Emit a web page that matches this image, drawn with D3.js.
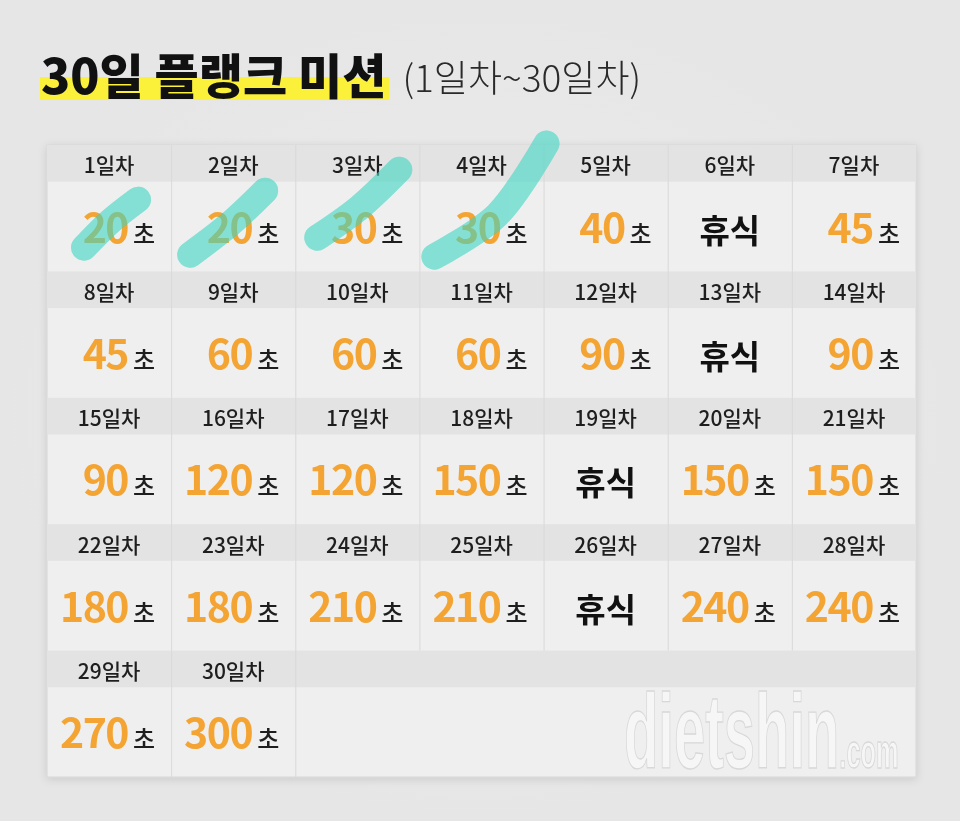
<!DOCTYPE html>
<html>
<head>
<meta charset="utf-8">
<script src="https://cdn.jsdelivr.net/npm/d3@7"></script>
<style>
  html, body { margin: 0; padding: 0; background: #e9e9e9; }
  svg { display: block; }
</style>
</head>
<body>
<div id="chart"></div>
<script>
// plank mission - 30 days, seconds per day (null = rest day)
const seconds = [
    20, 20, 30, 30, 40, null, 45,
    45, 60, 60, 60, 90, null, 90,
    90, 120, 120, 150, null, 150, 150,
    180, 180, 210, 210, null, 240, 240,
    270, 300
];
const dayLabels = seconds.map((s, i) => (i + 1) + '일차');
const completedDays = [1, 2, 3, 4];
const titleMain = '30일 플랭크 미션';
const titleSub = '(1일차~30일차)';
const unitLabel = '초';
const restLabel = '휴식';
const watermark = 'dietshin';
const watermarkTail = '.com';

const W = 960, H = 821;
const font = '"Noto Sans CJK KR", "Noto Sans", sans-serif';

const svg = d3.select('#chart')
    .append('svg')
    .attr('width', W)
    .attr('height', H);

const defs = svg.append('defs');
const shadow = defs.append('filter')
    .attr('id', 'shadow')
    .attr('x', '-5%').attr('y', '-5%')
    .attr('width', '110%').attr('height', '110%');
shadow.append('feDropShadow')
    .attr('dx', 0).attr('dy', 2)
    .attr('stdDeviation', 4)
    .attr('flood-color', '#000')
    .attr('flood-opacity', 0.12);

const bg = defs.append('radialGradient').attr('id', 'bg');
bg.append('stop').attr('offset', '0%').attr('stop-color', '#ededed');
bg.append('stop').attr('offset', '100%').attr('stop-color', '#e6e6e6');

svg.append('rect')
    .attr('width', W).attr('height', H)
    .attr('fill', 'url(#bg)');

///////////////////////////////
// title
///////////////////////////////
const titleG = svg.append('g');
const highlight = titleG.append('rect')
    .attr('fill', '#fbf03a');

const title = titleG.append('text')
    .attr('x', 41)
    .attr('y', 94)
    .attr('font-family', font)
    .attr('font-size', 48)
    .attr('font-weight', 900)
    .attr('fill', '#111')
    .text(titleMain);

const tw = title.node().getComputedTextLength();
highlight
    .attr('x', 40)
    .attr('y', 77)
    .attr('width', tw + 4)
    .attr('height', 23);

titleG.append('text')
    .attr('x', 41 + tw + 16)
    .attr('y', 92)
    .attr('font-family', font)
    .attr('font-size', 37)
    .attr('font-weight', 300)
    .attr('fill', '#2a2a2a')
    .text(titleSub);

///////////////////////////////
// grid
///////////////////////////////
const cols = 7, rows = Math.ceil(seconds.length / cols);

const x = d3.scaleBand()
    .domain(d3.range(cols))
    .range([47, 916]);

const y = d3.scaleBand()
    .domain(d3.range(rows))
    .range([145, 777]);

const headerH = y.bandwidth() * 0.29;
const cells = seconds.map((s, i) => ({
    day: i + 1,
    label: dayLabels[i],
    sec: s,
    col: i % cols,
    row: Math.floor(i / cols)
}));

const grid = svg.append('g');

// outer box with shadow
grid.append('rect')
    .attr('x', x(0))
    .attr('y', y(0))
    .attr('width', x.range()[1] - x.range()[0])
    .attr('height', y.range()[1] - y.range()[0])
    .attr('fill', '#efefef')
    .attr('stroke', '#d6d6d6')
    .attr('filter', 'url(#shadow)');

// header bands (full width)
grid.append('g')
    .selectAll('rect')
    .data(d3.range(rows))
    .enter()
    .append('rect')
        .attr('x', x(0))
        .attr('y', d => y(d))
        .attr('width', x.range()[1] - x.range()[0])
        .attr('height', headerH)
        .attr('fill', '#e3e3e3');

// vertical dividers, only where a day exists on either side
const dividers = [];
d3.range(rows).forEach(r => {
    d3.range(1, cols).forEach(c => {
        const idx = r * cols + c;
        if (idx <= seconds.length) dividers.push({ r, c });
    });
});
grid.append('g')
    .selectAll('line')
    .data(dividers)
    .enter()
    .append('line')
        .attr('x1', d => x(d.c) + 0.5)
        .attr('x2', d => x(d.c) + 0.5)
        .attr('y1', d => y(d.r))
        .attr('y2', d => y(d.r) + y.bandwidth())
        .attr('stroke', '#d9d9d9')
        .attr('stroke-width', 1);

// day labels
grid.append('g')
    .selectAll('text')
    .data(cells)
    .enter()
    .append('text')
        .attr('x', d => x(d.col) + x.bandwidth() / 2)
        .attr('y', d => y(d.row) + headerH / 2 + 1)
        .attr('text-anchor', 'middle')
        .attr('dominant-baseline', 'central')
        .attr('font-family', font)
        .attr('font-size', 21)
        .attr('font-weight', 500)
        .attr('fill', '#1e1e1e')
        .text(d => d.label);

// values (alphabetic baseline so 초 sits on the digits' baseline)
const valBase = d => y(d.row) + headerH + (y.bandwidth() - headerH) / 2 + 16;

const vals = grid.append('g')
    .selectAll('text')
    .data(cells)
    .enter()
    .append('text')
        .attr('x', d => d.sec == null ? x(d.col) + x.bandwidth() / 2 : x(d.col) + x.bandwidth() - 16)
        .attr('y', valBase)
        .attr('text-anchor', d => d.sec == null ? 'middle' : 'end')
        .attr('font-family', font);

vals.filter(d => d.sec == null)
    .attr('font-size', 33)
    .attr('font-weight', 700)
    .attr('fill', '#111')
    .text(restLabel);

const secVals = vals.filter(d => d.sec != null);
secVals.append('tspan')
    .attr('font-size', 41)
    .attr('font-weight', 700)
    .attr('fill', '#f4a433')
    .attr('letter-spacing', -1.5)
    .text(d => d.sec);
secVals.append('tspan')
    .attr('dx', 5)
    .attr('font-size', 24)
    .attr('font-weight', 500)
    .attr('fill', '#1e1e1e')
    .text(unitLabel);

///////////////////////////////
// check-off marker strokes
///////////////////////////////
// rough hand strokes, offsets from each cell's value area
const strokeShape = {
    1: [[37, 66], [63, 40], [91, 18]],
    2: [[19, 73], [58, 43], [94, 9]],
    3: [[22, 56], [64, 26], [104, -12]],
    4: [[15, 75], [78, 33], [127, -38]]
};
const line = d3.line().curve(d3.curveCatmullRom);
const marked = cells.filter(d => completedDays.includes(d.day));
const strokePath = d => line(strokeShape[d.day].map(p =>
    [x(d.col) + p[0], y(d.row) + headerH + p[1]]));

// two passes: multiply tints the digits green, a normal pass brightens the cyan
[['multiply', 0.6], ['normal', 0.55]].forEach(([mode, op]) => {
    svg.append('g')
        .style('mix-blend-mode', mode)
        .attr('opacity', op)
        .selectAll('path')
        .data(marked)
        .enter()
        .append('path')
            .attr('d', strokePath)
            .attr('fill', 'none')
            .attr('stroke', '#6fe2d3')
            .attr('stroke-width', 26)
            .attr('stroke-linecap', 'round');
});

///////////////////////////////
// watermark
///////////////////////////////
const wm = svg.append('text')
    .attr('transform', 'translate(624,768) scale(0.53,1)')
    .attr('font-family', '"Liberation Sans Narrow", "Liberation Sans", sans-serif')
    .attr('font-weight', 700)
    .attr('fill', '#f6f6f6')
    .attr('stroke', '#d8d8d8')
    .attr('stroke-width', 1.3);
wm.append('tspan')
    .attr('font-size', 106)
    .text(watermark);
wm.append('tspan')
    .attr('font-size', 48)
    .text(watermarkTail);
</script>
</body>
</html>
